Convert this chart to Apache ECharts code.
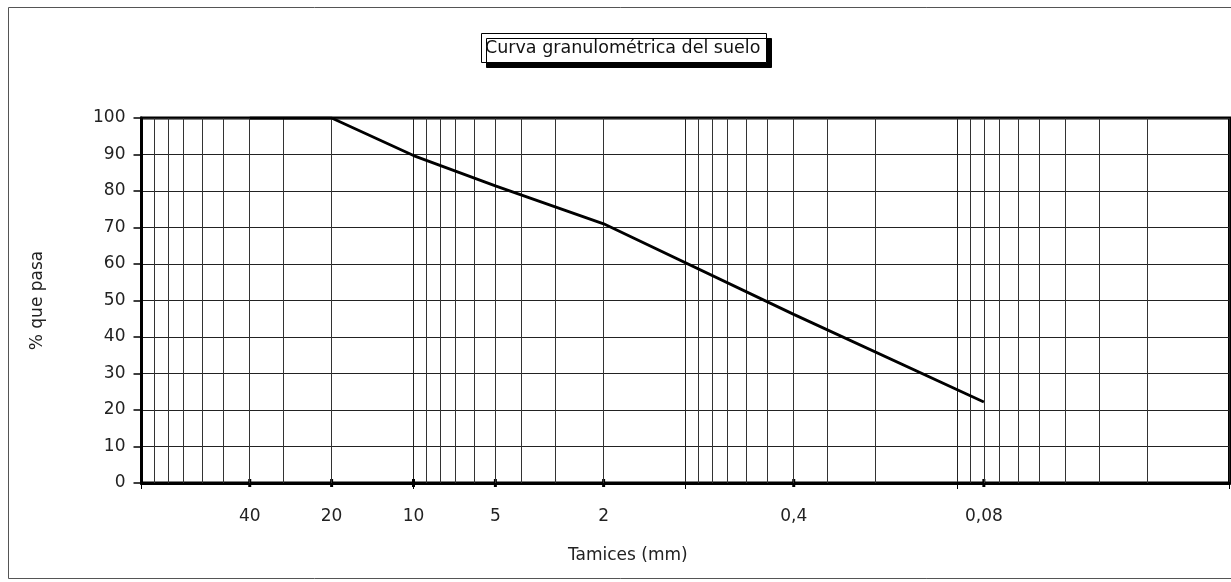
<!DOCTYPE html>
<html>
<head>
<meta charset="utf-8">
<script src="https://cdn.jsdelivr.net/npm/echarts@6/dist/echarts.min.js"></script>
<style>
html,body{margin:0;padding:0;background:#fff;}
#c{width:1231px;height:582px;}
</style>
</head>
<body>
<div id="c"></div>
<script>
// Sieve sizes (mm) and % passing
var sieves = [40, 20, 10, 5, 2, 0.4, 0.08];
var passing = [100, 100, 89.7, 81.4, 71, 46.2, 22.2];
var sieveLabels = ['40', '20', '10', '5', '2', '0,4', '0,08'];
var yTicks = [0, 10, 20, 30, 40, 50, 60, 70, 80, 90, 100];
// minor log gridlines (2..9 in each decade)
var minorGrid = [90, 80, 70, 60, 50, 40, 30, 20,
  9, 8, 7, 6, 5, 4, 3, 2,
  0.9, 0.8, 0.7, 0.6, 0.5, 0.4, 0.3, 0.2,
  0.09, 0.08, 0.07, 0.06, 0.05, 0.04, 0.03, 0.02];

var FONT = 'DejaVu Sans';
var chart = echarts.init(document.getElementById('c'), null, {renderer: 'canvas'});

var curveData = sieves.map(function (s, i) { return [s, passing[i]]; });
var markerData = sieves.map(function (s, i) { return {value: [s, 0], label: {formatter: sieveLabels[i]}}; });

chart.setOption({
  animation: false,
  backgroundColor: '#fff',
  title: {
    text: 'Curva granulométrica del suelo',
    left: 481, top: 33,
    padding: [5, 6, 4, 4],
    backgroundColor: '#fff',
    borderColor: '#000',
    borderWidth: 1,
    shadowColor: '#000',
    shadowBlur: 0,
    shadowOffsetX: 5,
    shadowOffsetY: 5,
    textStyle: {fontFamily: FONT, fontSize: 17.5, fontWeight: 'normal', color: '#111', lineHeight: 21}
  },
  graphic: [
    {type: 'rect', z: -10, shape: {x: 8.5, y: 7.5, width: 1240, height: 571}, style: {fill: 'none', stroke: '#555', lineWidth: 1}},
    {type: 'text', left: 568, top: 547, style: {text: 'Tamices (mm)', font: '17px "DejaVu Sans"', fill: '#222'}}
  ],
  grid: {
    left: 141.5, right: 1.5, top: 118, bottom: 99,
    show: true, borderColor: '#000', borderWidth: 3, backgroundColor: 'transparent'
  },
  xAxis: {
    type: 'log', logBase: 10, min: 0.01, max: 100, inverse: true,
    axisLine: {show: true, onZero: false, lineStyle: {color: '#000', width: 3}},
    axisTick: {show: true, inside: false, length: 6, lineStyle: {color: '#000', width: 1}},
    axisLabel: {show: false},
    splitLine: {show: true, lineStyle: {color: '#222', width: 1}},
    minorTick: {show: false},
    minorSplitLine: {show: false}
  },
  yAxis: {
    type: 'value', min: 0, max: 100, interval: 10,
    name: '% que pasa', nameLocation: 'middle', nameGap: 95, nameRotate: 90,
    nameTextStyle: {fontFamily: FONT, fontSize: 17, color: '#222'},
    axisLine: {show: true, lineStyle: {color: '#000', width: 3}},
    axisTick: {show: true, inside: false, length: 8, lineStyle: {color: '#000', width: 1.5}},
    axisLabel: {fontFamily: FONT, fontSize: 17, color: '#222', margin: 16,
      formatter: function (v) { return yTicks.indexOf(v) >= 0 ? String(v) : ''; }},
    splitLine: {show: true, lineStyle: {color: '#222', width: 1}}
  },
  series: [
    {
      type: 'scatter',
      z: 1,
      silent: true,
      data: markerData,
      symbol: 'rect',
      symbolSize: [3, 8],
      itemStyle: {color: '#000', opacity: 1},
      clip: false,
      label: {show: true, position: 'bottom', distance: 21, fontFamily: FONT, fontSize: 17, color: '#222', opacity: 1},
      markLine: {
        silent: true,
        symbol: ['none', 'none'],
        label: {show: false},
        lineStyle: {color: '#333', width: 1, type: 'solid'},
        emphasis: {disabled: true},
        data: minorGrid.map(function (v) { return {xAxis: v}; })
      }
    },
    {
      type: 'line',
      z: 5,
      data: curveData,
      symbol: 'none',
      lineStyle: {color: '#000', width: 2.8},
      silent: true
    }
  ]
});
</script>
</body>
</html>
